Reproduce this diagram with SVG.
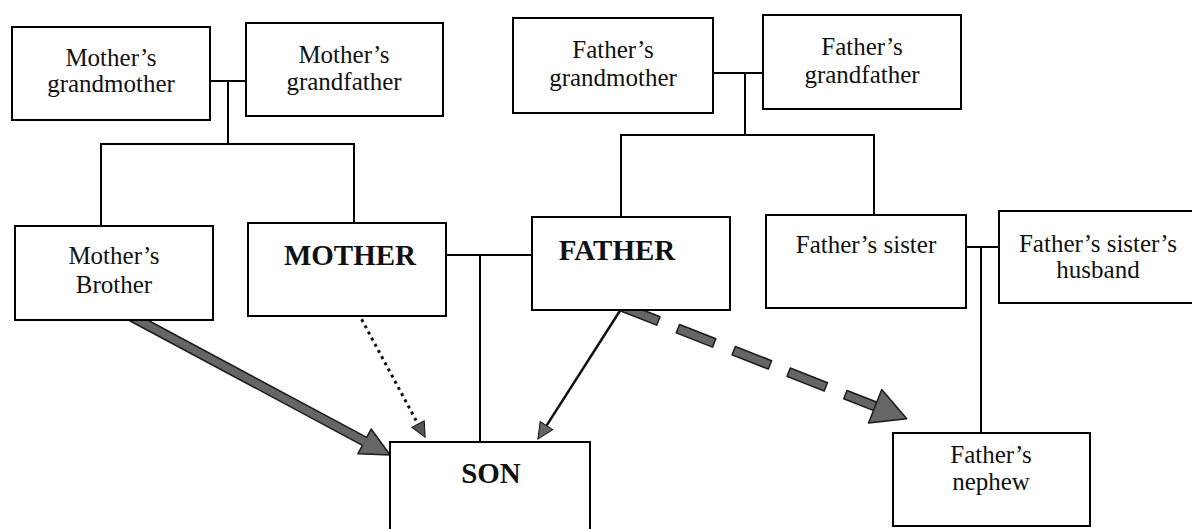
<svg xmlns="http://www.w3.org/2000/svg" width="1192" height="529" viewBox="0 0 1192 529">
<style>
.box{fill:#fff;stroke:#000;stroke-width:2}
.t{font-family:"Liberation Serif","Times New Roman",serif;font-size:25px;fill:#111;text-anchor:middle}
.b{font-family:"Liberation Serif","Times New Roman",serif;font-size:29px;font-weight:bold;fill:#111;text-anchor:middle}
.ln{fill:none;stroke:#000;stroke-width:2}
.thick{fill:#666;stroke:#1a1a1a;stroke-width:1.5;stroke-linejoin:round}
</style>
<rect width="1192" height="529" fill="#fff"/>
<g id="connectors">
<polyline class="ln" points="210,81 246,81"/>
<polyline class="ln" points="228,81 228,144"/>
<polyline class="ln" points="101,226 101,144 354,144 354,223"/>
<polyline class="ln" points="713,73 763,73"/>
<polyline class="ln" points="745,73 745,135"/>
<polyline class="ln" points="621,217 621,135 874,135 874,215"/>
<polyline class="ln" points="446,255 532,255"/>
<polyline class="ln" points="480,255 480,442"/>
<polyline class="ln" points="966,247 999,247"/>
<polyline class="ln" points="981,247 981,433"/>
<g transform="translate(123,312) rotate(28.17)">
<polygon class="thick" points="0,-4.5 274,-4.5 274,-14 303,0 274,14 274,4.5 0,4.5"/>
</g>
<g transform="translate(355,307) rotate(61.7)">
<line x1="0" y1="0" x2="134" y2="0" stroke="#111" stroke-width="3" stroke-dasharray="3 4"/>
<polygon points="133,-7 148,0 133,7" fill="#555" stroke="#111" stroke-width="1"/>
</g>
<g transform="translate(623,306) rotate(122.6)">
<line x1="0" y1="0" x2="144" y2="0" stroke="#111" stroke-width="2.5"/>
<polygon points="142,-7.5 158,0 142,7.5" fill="#666" stroke="#111" stroke-width="1"/>
</g>
<g transform="translate(623,307) rotate(21.5)">
<rect class="thick" x="0" y="-4.5" width="38" height="9"/>
<rect class="thick" x="59" y="-4.5" width="39" height="9"/>
<rect class="thick" x="119" y="-4.5" width="39" height="9"/>
<rect class="thick" x="178" y="-4.5" width="40" height="9"/>
<rect class="thick" x="239" y="-4.5" width="33" height="9"/>
<polygon class="thick" points="271,-18 305,0 271,18"/>
</g>
</g>
<g id="mothers-grandmother"><rect class="box" x="12" y="27" width="198" height="93"/><text class="t" x="111" y="66">Mother’s</text><text class="t" x="111" y="92">grandmother</text></g>
<g id="mothers-grandfather"><rect class="box" x="246" y="23" width="197" height="93"/><text class="t" x="344" y="63">Mother’s</text><text class="t" x="344" y="90">grandfather</text></g>
<g id="fathers-grandmother"><rect class="box" x="513" y="18" width="200" height="95"/><text class="t" x="613" y="58">Father’s</text><text class="t" x="613" y="86">grandmother</text></g>
<g id="fathers-grandfather"><rect class="box" x="763" y="15" width="198" height="94"/><text class="t" x="862" y="55">Father’s</text><text class="t" x="862" y="83">grandfather</text></g>
<g id="mothers-brother"><rect class="box" x="15" y="226" width="198" height="94"/><text class="t" x="114" y="264">Mother’s</text><text class="t" x="114" y="293">Brother</text></g>
<g id="mother"><rect class="box" x="248" y="223" width="198" height="93"/><text class="b" x="350" y="265">MOTHER</text></g>
<g id="father"><rect class="box" x="532" y="217" width="198" height="93"/><text class="b" x="617" y="260">FATHER</text></g>
<g id="fathers-sister"><rect class="box" x="766" y="215" width="200" height="93"/><text class="t" x="866" y="253">Father’s sister</text></g>
<g id="fathers-sisters-husband"><rect class="box" x="999" y="211" width="210" height="92"/><text class="t" x="1098" y="252">Father’s sister’s</text><text class="t" x="1098" y="278">husband</text></g>
<g id="son"><rect class="box" x="390" y="442" width="200" height="100"/><text class="b" x="491" y="483">SON</text></g>
<g id="fathers-nephew"><rect class="box" x="893" y="433" width="197" height="93"/><text class="t" x="991" y="463">Father’s</text><text class="t" x="991" y="490">nephew</text></g>
</svg>
